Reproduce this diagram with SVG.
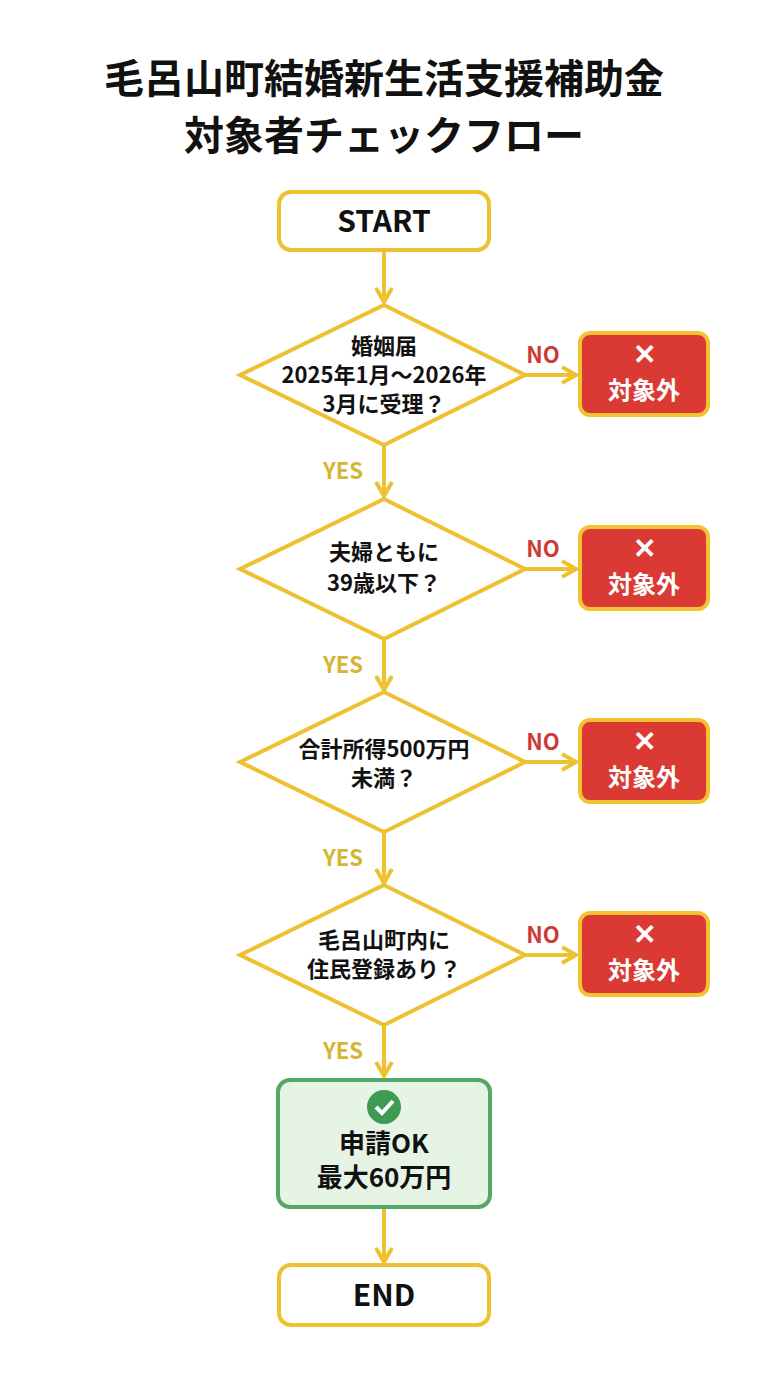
<svg xmlns="http://www.w3.org/2000/svg" width="768" height="1376" viewBox="0 0 768 1376">
<defs>
<style>
text{font-family:"Noto Sans CJK JP","Noto Sans",sans-serif;font-weight:bold;text-anchor:middle}
.t{font-size:40px;fill:#111}
.term{fill:#fff;stroke:#ecc232;stroke-width:4}
.dia{fill:#fff;stroke:#ecc232;stroke-width:4}
.q{font-size:22px;fill:#111}
.red{fill:#da3a33;stroke:#f2c232;stroke-width:4}
.rt{font-size:24px;fill:#fff}
.ln{stroke:#ecc232;stroke-width:4;fill:none}
.yes{font-size:22px;fill:#d4b534}
.no{font-size:22px;fill:#cc3a36}
</style>
<marker id="ah" viewBox="0 0 10 10" refX="8" refY="5" markerWidth="5" markerHeight="5" orient="auto"><path d="M1,1 L8,5 L1,9" fill="none" stroke="#ecc232" stroke-width="2"/></marker>
</defs>
<rect width="768" height="1376" fill="#fff"/>
<text x="384" y="93" class="t">毛呂山町結婚新生活支援補助金</text>
<text x="384" y="150" class="t">対象者チェックフロー</text>
<g id="connectors">
<line class="ln" x1="384" y1="250" x2="384" y2="302" marker-end="url(#ah)"/>
<line class="ln" x1="384" y1="445" x2="384" y2="496" marker-end="url(#ah)"/>
<line class="ln" x1="384" y1="639" x2="384" y2="690" marker-end="url(#ah)"/>
<line class="ln" x1="384" y1="832" x2="384" y2="883" marker-end="url(#ah)"/>
<line class="ln" x1="384" y1="1025" x2="384" y2="1076" marker-end="url(#ah)"/>
<line class="ln" x1="384" y1="1207" x2="384" y2="1262" marker-end="url(#ah)"/>
<line class="ln" x1="525" y1="375" x2="576" y2="375" marker-end="url(#ah)"/>
<line class="ln" x1="525" y1="569" x2="576" y2="569" marker-end="url(#ah)"/>
<line class="ln" x1="525" y1="762" x2="576" y2="762" marker-end="url(#ah)"/>
<line class="ln" x1="525" y1="955" x2="576" y2="955" marker-end="url(#ah)"/>
<text x="343" y="479" class="yes">YES</text>
<text x="343" y="673" class="yes">YES</text>
<text x="343" y="866" class="yes">YES</text>
<text x="343" y="1059" class="yes">YES</text>
<text x="543" y="363" class="no">NO</text>
<text x="543" y="557" class="no">NO</text>
<text x="543" y="750" class="no">NO</text>
<text x="543" y="943" class="no">NO</text>
</g>
<g id="start"><rect class="term" x="279" y="192" width="210" height="58" rx="12"/><text x="384" y="232" style="font-size:30px;fill:#111">START</text></g>
<g id="q1"><polygon class="dia" points="384,305 525,375 384,445 240,375"/>
<text x="384" y="354" class="q">婚姻届</text><text x="384" y="383" class="q">2025年1月～2026年</text><text x="384" y="412" class="q">3月に受理？</text></g>
<g id="q2"><polygon class="dia" points="384,499 525,569 384,639 240,569"/>
<text x="384" y="560" class="q">夫婦ともに</text><text x="384" y="591" class="q">39歳以下？</text></g>
<g id="q3"><polygon class="dia" points="384,692 525,762 384,832 240,762"/>
<text x="384" y="757" class="q">合計所得500万円</text><text x="384" y="786" class="q">未満？</text></g>
<g id="q4"><polygon class="dia" points="384,885 525,955 384,1025 240,955"/>
<text x="384" y="948" class="q">毛呂山町内に</text><text x="384" y="977" class="q">住民登録あり？</text></g>
<g id="n1"><rect class="red" x="580" y="333" width="128" height="82" rx="10"/><text x="644" y="364" class="rt" style="font-size:28px">✕</text><text x="644" y="399" class="rt">対象外</text></g>
<g id="n2"><rect class="red" x="580" y="527" width="128" height="82" rx="10"/><text x="644" y="558" class="rt" style="font-size:28px">✕</text><text x="644" y="593" class="rt">対象外</text></g>
<g id="n3"><rect class="red" x="580" y="720" width="128" height="82" rx="10"/><text x="644" y="751" class="rt" style="font-size:28px">✕</text><text x="644" y="786" class="rt">対象外</text></g>
<g id="n4"><rect class="red" x="580" y="913" width="128" height="82" rx="10"/><text x="644" y="944" class="rt" style="font-size:28px">✕</text><text x="644" y="979" class="rt">対象外</text></g>
<g id="ok"><rect x="278" y="1080" width="212" height="127" rx="12" fill="#e6f4e6" stroke="#55a866" stroke-width="4"/>
<circle cx="384" cy="1107" r="17" fill="#3f9b52"/><path d="M376,1107 L382,1113 L393,1101" fill="none" stroke="#fff" stroke-width="4"/>
<text x="384" y="1153" style="font-size:26px;fill:#111">申請OK</text><text x="384" y="1187" style="font-size:26px;fill:#111">最大60万円</text></g>
<g id="end"><rect class="term" x="279" y="1265" width="210" height="60" rx="12"/><text x="384" y="1306" style="font-size:30px;fill:#111">END</text></g>
</svg>
